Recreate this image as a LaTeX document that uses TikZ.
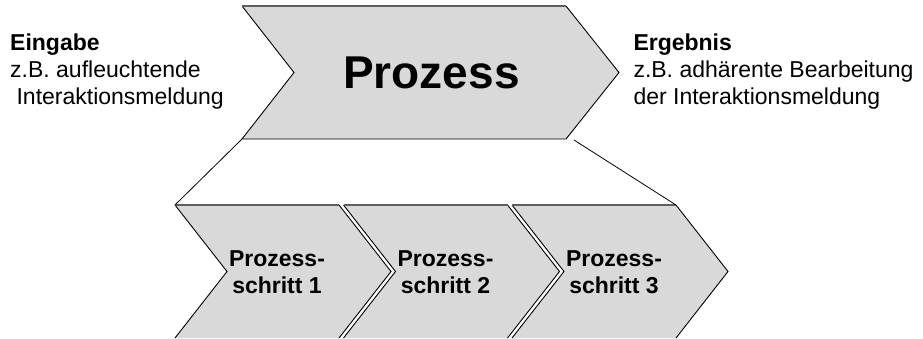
\documentclass[tikz,border=0pt]{standalone}
\usepackage{fontspec}
\setmainfont{Liberation Sans}
\definecolor{chevfill}{HTML}{D9D9D9}
\definecolor{chevtop}{HTML}{5F5F5F}
\tikzset{
  chevbody/.style={fill=chevfill},
  chevedge/.style={draw=black, line width=0.9pt, line join=miter},
  topedge/.style={draw=chevtop, line width=1.6pt},
  link/.style={draw=black, line width=0.8pt},
  mainlabel/.style={inner sep=0pt, anchor=base, font=\bfseries\fontsize{46}{50}\selectfont},
  steplabel/.style={align=center, inner sep=0pt, font=\bfseries\fontsize{23}{27}\selectfont},
  sidelabel/.style={align=left, inner sep=0pt, anchor=base west, font=\fontsize{23}{27}\selectfont},
}
\begin{document}
\begin{tikzpicture}[x=1pt, y=-1pt]
  \useasboundingbox (0,0) rectangle (923,338);

  % main process chevron
  \coordinate (P-tl) at (242,6);
  \coordinate (P-tr) at (566,6);
  \coordinate (P-tip) at (619,72.5);
  \coordinate (P-br) at (566,139);
  \coordinate (P-bl) at (242,139);
  \coordinate (P-notch) at (294,72.5);
  \fill[chevbody] (P-tl) -- (P-tr) -- (P-tip) -- (P-br) -- (P-bl) -- (P-notch) -- cycle;
  \draw[chevedge] (P-tr) -- (P-tip) -- (P-br) -- (P-bl) -- (P-notch) -- (P-tl);
  \draw[topedge] (P-tl) -- (P-tr);
  \node[mainlabel] (prozess) at (431.5,88.3) {Prozess};

  % the three process steps
  \foreach \i/\x in {1/175, 2/343.5, 3/512} {
    \coordinate (S\i-tl) at (\x,205);
    \coordinate (S\i-tr) at (\x+164,205);
    \coordinate (S\i-tip) at (\x+216,271.5);
    \coordinate (S\i-br) at (\x+164,338);
    \coordinate (S\i-bl) at (\x,338);
    \coordinate (S\i-notch) at (\x+52,271.5);
    \fill[chevbody] (S\i-tl) -- (S\i-tr) -- (S\i-tip) -- (S\i-br) -- (S\i-bl) -- (S\i-notch) -- cycle;
    \draw[chevedge] (S\i-tr) -- (S\i-tip) -- (S\i-br);
    \draw[chevedge] (S\i-bl) -- (S\i-notch) -- (S\i-tl);
    \draw[topedge] (S\i-tl) -- (S\i-tr);
    \node[steplabel] (step\i) at (\x+102,272) {Prozess-\\schritt \i};
  }

  % zoom lines from the process to its steps
  \coordinate (P-brlink) at (574,140);
  \draw[link] (P-bl) -- (S1-tl);
  \draw[link] (P-brlink) -- (S3-tr);

  % input and result (anchored at the baseline of the last line)
  \node[sidelabel] (eingabe) at (10,104.7)
    {\textbf{Eingabe}\\z.B. aufleuchtende\\\hspace*{6.4pt}Interaktionsmeldung};
  \node[sidelabel] (ergebnis) at (633.3,104.7)
    {\textbf{Ergebnis}\\z.B. adhärente Bearbeitung\\der Interaktionsmeldung};
\end{tikzpicture}
\end{document}
